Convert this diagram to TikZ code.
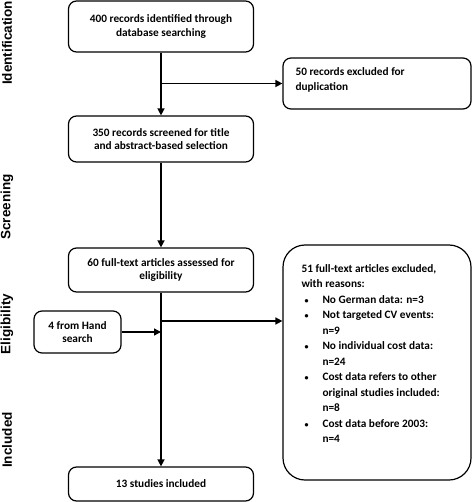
\documentclass[tikz,border=0pt]{standalone}
\usepackage{fontspec}
\setmainfont{Carlito}
\newfontfamily\phasefont{Liberation Sans}
\usetikzlibrary{positioning,arrows.meta}

\newcommand{\dotmark}{\hspace{3pt}{\fontsize{8}{8}\selectfont\textbullet}}

\tikzset{
  stagebox/.style={draw, line width=1.2pt, rounded corners=8pt, font=\bfseries\fontsize{11.3}{13.5}\selectfont},
  phase/.style={rotate=90, font=\phasefont\bfseries\fontsize{13.5}{15}\selectfont},
  flow/.style={line width=1.4pt, -{Triangle[width=7pt,length=7pt]}}
}

\begin{document}
\begin{tikzpicture}[x=1pt,y=-1pt]
  \useasboundingbox (0,0) rectangle (473,502);
  % phases
  \node[phase] (idf) at (7,43) {Identification};
  \node[phase] (scr) at (7,207) {Screening};
  \node[phase] (elg) at (7,324) {Eligibility};
  \node[phase] (inc) at (7,440) {Included};
  % main column
  \node[stagebox, minimum width=185pt, minimum height=51pt, align=center] (found) at (161,26.5)
    {400 records identified through\\database searching};
  \node[stagebox, minimum width=185pt, minimum height=46pt, align=center] (screened) at (161,139)
    {350 records screened for title\\and abstract-based selection};
  \node[stagebox, minimum width=185pt, minimum height=44pt, align=center] (fulltext) at (161,270)
    {60 full-text articles assessed for\\eligibility};
  \node[stagebox, minimum width=185pt, minimum height=34pt] (included) at (161,484)
    {13 studies included};
  % side boxes
  \node[stagebox, minimum width=188pt, minimum height=51pt] (dupl) at (377,83.5) {};
  \node[anchor=north west, align=left, font=\bfseries\fontsize{11.3}{15}\selectfont] (dupltext) at (292,64)
    {50 records excluded for\\duplication};
  \node[stagebox, minimum width=87pt, minimum height=42pt, align=center] (hand) at (77.5,332)
    {4 from Hand\\search};
  \node[stagebox, rounded corners=22pt, minimum width=188pt, minimum height=235pt] (excluded) at (377,362.5) {};
  \node[anchor=north west, font=\bfseries\fontsize{11.3}{15.5}\selectfont] (reasons) at (298,258)
    {\begin{tabular}{@{}p{21pt}@{}l@{}}
      \multicolumn{2}{@{}l@{}}{51 full-text articles excluded,}\\
      \multicolumn{2}{@{}l@{}}{with reasons:}\\
      \dotmark & No German data: n=3\\
      \dotmark & Not targeted CV events:\\
      & n=9\\
      \dotmark & No individual cost data:\\
      & n=24\\
      \dotmark & Cost data refers to other\\
      & original studies included:\\
      & n=8\\
      \dotmark & Cost data before 2003:\\
      & n=4
    \end{tabular}};
  % connectors
  \coordinate (split) at (found.south |- dupl.west);
  \coordinate (excl) at (fulltext.south |- 0,321);
  \draw[flow] (found) -- (screened);
  \draw[flow] (split) -- (dupl.west);
  \draw[flow] (screened) -- (fulltext);
  \draw[flow] (fulltext) -- (included);
  \draw[flow] (excl) -- (excl -| excluded.west);
  \draw[flow] (hand.east) -- (hand.east -| fulltext.south);
\end{tikzpicture}
\end{document}
